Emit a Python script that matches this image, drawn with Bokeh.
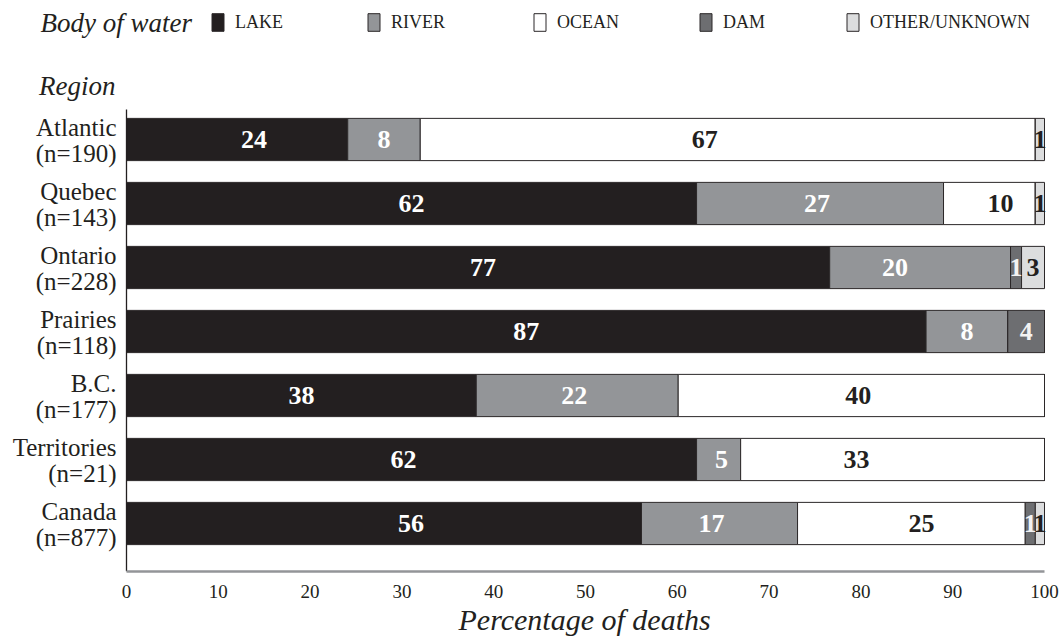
from bokeh.plotting import figure
from bokeh.models import ColumnDataSource, Label, Legend, LegendItem, FixedTicker, Range1d, Title
from bokeh.core.properties import value
from bokeh.embed import file_html
from bokeh.resources import INLINE

# ---------------- data ----------------
regions = ["Atlantic", "Quebec", "Ontario", "Prairies", "B.C.", "Territories", "Canada"]
sizes = ["(n=190)", "(n=143)", "(n=228)", "(n=118)", "(n=177)", "(n=21)", "(n=877)"]
series_names = ["LAKE", "RIVER", "OCEAN", "DAM", "OTHER/UNKNOWN"]

lake = [24.1, 62.1, 76.6, 87.1, 38.1, 62.1, 56.1]
river = [7.9, 26.9, 19.7, 8.9, 22.0, 4.8, 17.0]
ocean = [67.0, 10.0, 0.0, 0.0, 39.9, 33.1, 24.8]
dam = [0.0, 0.0, 1.2, 4.0, 0.0, 0.0, 1.1]
other = [1.0, 1.0, 2.5, 0.0, 0.0, 0.0, 1.0]

lake_lbl = ["24", "62", "77", "87", "38", "62", "56"]
river_lbl = ["8", "27", "20", "8", "22", "5", "17"]
ocean_lbl = ["67", "10", "", "", "40", "33", "25"]
dam_lbl = ["", "", "1", "4", "", "", "1"]
other_lbl = ["1", "1", "3", "", "", "", "1"]

x_ticks = [0, 10, 20, 30, 40, 50, 60, 70, 80, 90, 100]

# ---------------- layout / style ----------------
W, H = 1061, 642
X0, PXU = 126, 9.18          # pixel of x=0, pixels per percent
Y6, PYU = 139, 64            # pixel of first row centre, pixels per row
BOTTOM = 71                  # room for the x axis and its title
FRAME_H = H - BOTTOM


def dx(px):
    return (px - X0) / PXU


def dy(py):
    return 6 + (Y6 - py) / PYU


keys = ["lake", "river", "ocean", "dam", "other"]
fills = ["#231f20", "#939598", "#ffffff", "#6d6e71", "#dcddde"]
text_cols = ["#ffffff", "#ffffff", "#231f20", "#f2f2f2", "#231f20"]
label_dx = [
    [17, 0, 5, 0, 0, -8, 27],
    [0, -3, -25, 0, -3, 3, -8],
    [-23, 11, 0, 0, -3, -36, 10],
    [0, 0, 0, 0, 0, 0, 0],
    [0, 0, 0, 0, 0, 0, 0],
]
legend_x = [210, 366, 532, 698, 845]   # left edge of each legend swatch (px)
SERIF = "Liberation Serif"
INK = "#231f20"
n = len(regions)
ys = [n - 1 - i for i in range(n)]

vals = [lake, river, ocean, dam, other]
lbls = [lake_lbl, river_lbl, ocean_lbl, dam_lbl, other_lbl]

src = ColumnDataSource(dict(y=ys, lake=lake, river=river, ocean=ocean, dam=dam, other=other))

p = figure(width=W, height=H,
           x_range=Range1d(dx(0), dx(W)), y_range=Range1d(dy(FRAME_H), dy(0)),
           output_backend="svg", toolbar_location=None,
           min_border_left=0, min_border_right=0, min_border_top=0, min_border_bottom=BOTTOM)
p.outline_line_color = None
p.xgrid.visible = False
p.ygrid.visible = False
p.yaxis.visible = False

rends = p.hbar_stack(keys, y="y", height=0.66, fill_color=fills, line_color="#2b2728",
                     line_width=1, source=src)

# vertical axis line at x = 0
p.segment(x0=[0], y0=[dy(FRAME_H)], x1=[0], y1=[dy(109)], line_color=INK, line_width=1.3)

# value labels
lx, ly, lt, lc, ldx = [], [], [], [], []
for s in range(len(keys)):
    for i in range(n):
        start = sum(vals[k][i] for k in range(s))
        if lbls[s][i]:
            lx.append(start + vals[s][i] / 2.0)
            ly.append(ys[i])
            lt.append(lbls[s][i])
            lc.append(text_cols[s])
            ldx.append(label_dx[s][i])
lsrc = ColumnDataSource(dict(x=lx, y=ly, t=lt, c=lc, dx=ldx))
p.text(x="x", y="y", text="t", text_color="c", x_offset="dx", source=lsrc,
       text_align="center", text_baseline="middle", text_font=value(SERIF),
       text_font_style="bold", text_font_size="26px")

# region labels (two lines each)
rsrc = ColumnDataSource(dict(x=[dx(116)] * n, y1=[y + 12 / PYU for y in ys],
                             y2=[y - 14 / PYU for y in ys], a=regions, b=sizes))
p.text(x="x", y="y1", text="a", source=rsrc, text_align="right", text_baseline="middle",
       text_font=value(SERIF), text_font_size="25px", text_color=INK)
p.text(x="x", y="y2", text="b", source=rsrc, text_align="right", text_baseline="middle",
       text_font=value(SERIF), text_font_size="25px", text_color=INK)

# x axis (limited to 0..100)
p.xaxis.bounds = (0, 100)
p.xaxis.ticker = FixedTicker(ticks=x_ticks)
p.xaxis.axis_line_color = "#939598"
p.xaxis.axis_line_width = 2.5
p.xaxis.major_tick_line_color = None
p.xaxis.minor_tick_line_color = None
p.xaxis.major_tick_out = 0
p.xaxis.major_tick_in = 0
p.xaxis.major_label_standoff = 13
p.xaxis.major_label_text_font = SERIF
p.xaxis.major_label_text_font_size = "19px"
p.xaxis.major_label_text_color = INK

# x axis title, centred under the 0..100 scale
p.add_layout(Title(text="Percentage of deaths", align="left", offset=458, standoff=0,
                   text_font=SERIF, text_font_style="italic", text_font_size="30px",
                   text_color=INK), "below")

# titles
p.add_layout(Label(x=dx(115), y=dy(85), text="Region", text_align="right",
                   text_baseline="middle", text_font=SERIF, text_font_style="italic",
                   text_font_size="27px", text_color=INK))
p.add_layout(Label(x=dx(40), y=dy(22), text="Body of water", text_align="left",
                   text_baseline="middle", text_font=SERIF, text_font_style="italic",
                   text_font_size="27px", text_color=INK))

for k in range(5):
    lg = Legend(items=[LegendItem(label=series_names[k], renderers=[rends[k]])],
                orientation="horizontal", location=(legend_x[k], FRAME_H - 33),
                glyph_width=15, glyph_height=22, label_height=22,
                label_standoff=10, spacing=0, padding=0, margin=0,
                label_text_font=SERIF, label_text_font_size="18px", label_text_color=INK,
                border_line_alpha=0, background_fill_alpha=0)
    p.add_layout(lg)

open("out.html", "w").write(file_html(p, INLINE))
